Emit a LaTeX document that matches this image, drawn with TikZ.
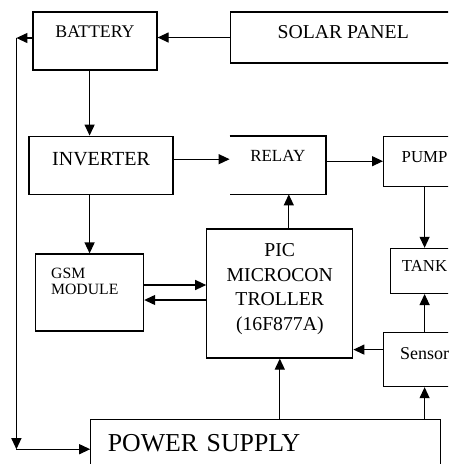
\documentclass[tikz,border=0pt]{standalone}
\usepackage{fontspec}
\setmainfont{Liberation Serif}
\usetikzlibrary{
  arrows.meta,
  positioning,
  calc
}
\tikzset{
  block/.style={
    draw,
    line width=1.2pt,
    inner sep=0pt,
    align=center
  },
  openblock/.style={
    inner sep=0pt,
    align=center
  },
  flow/.style={
    -{Triangle[length=11pt,width=10pt]},
    line width=1.2pt
  }
}

\begin{document}
\begin{tikzpicture}[
  x=1pt,
  y=1pt
]

  \useasboundingbox (0,0) rectangle (448,-464);
  \clip (0,0) rectangle (448,-464);

  \node[
    block,
    minimum width=124pt,
    minimum height=58pt,
    text depth=18pt,
    font=\fontsize{17.8}{20}\selectfont
  ] (battery) at (95,-41) {BATTERY};

  \node[
    block,
    right=72pt of battery,
    yshift=3.5pt,
    minimum width=226pt,
    minimum height=51pt,
    text depth=12pt,
    font=\fontsize{19.7}{22}\selectfont
  ] (solar) {SOLAR PANEL};

  \node[
    block,
    below=65pt of battery,
    xshift=6pt,
    minimum width=144pt,
    minimum height=58pt,
    text depth=13pt,
    font=\fontsize{20}{22}\selectfont
  ] (inverter) {INVERTER};

  \node[
    openblock,
    right=56pt of inverter,
    minimum width=96pt,
    minimum height=58pt,
    text depth=19pt,
    font=\fontsize{17}{19}\selectfont
  ] (relay) {RELAY};

  \node[
    block,
    right=57pt of relay,
    yshift=4pt,
    minimum width=82pt,
    minimum height=50pt,
    text depth=8pt,
    font=\fontsize{16.8}{19}\selectfont
  ] (pump) {PUMP};

  \node[
    block,
    below=61pt of pump,
    minimum width=68pt,
    minimum height=45pt,
    text depth=10pt,
    font=\fontsize{16.8}{19}\selectfont
  ] (tank) {TANK};

  \node[
    block,
    below=38pt of tank,
    minimum width=82pt,
    minimum height=54pt,
    text depth=12pt,
    font=\fontsize{18}{20}\selectfont
  ] (sensor) {Sensor};

  \node[
    block,
    below=34pt of relay,
    xshift=2pt,
    minimum width=146pt,
    minimum height=129pt,
    label={
      [anchor=north, yshift=-15pt, inner sep=0pt, align=center,
       font=\fontsize{19.7}{24.5}\selectfont]north:PIC\\MICROCON\\TROLLER\\(16F877A)
    }
  ] (pic) {};

  \node[
    block,
    left=62pt of pic,
    yshift=1pt,
    minimum width=108pt,
    minimum height=77pt,
    label={
      [anchor=north west, xshift=16pt, yshift=-14pt, inner sep=0pt, align=left,
       font=\fontsize{15.7}{17}\selectfont]north west:GSM\\MODULE
    }
  ] (gsm) {};

  \node[
    block,
    below=60pt of pic,
    xshift=-14pt,
    minimum width=350pt,
    minimum height=60pt,
    text width=316pt,
    inner xsep=17pt,
    align=left,
    text depth=13pt,
    font=\fontsize{25.8}{28}\selectfont
  ] (power) {POWER SUPPLY};

  % relay box is open on its left side
  \draw[line width=1.2pt]
  (relay.north west) -- (relay.north east) --
  (relay.south east) -- (relay.south west);

  \draw[flow] (solar.west) -- (solar.west -| battery.east);
  \draw[flow] (battery.south -| gsm.north) -- (inverter.north -| gsm.north);
  \draw[flow] (inverter.south -| gsm.north) -- (gsm.north);
  \draw[flow] ([yshift=6pt]inverter.east) -- ([yshift=6pt]inverter.east -| relay.west);
  \draw[flow] (relay.east |- pump.west) -- (pump.west);
  \draw[flow] (pump.south) -- (tank.north);
  \draw[flow] (sensor.north) -- (tank.south);
  \draw[flow] ([xshift=9pt]pic.north) -- ([xshift=9pt]pic.north |- relay.south);
  \draw[flow] ([yshift=7.5pt]gsm.east) -- ([yshift=7.5pt]gsm.east -| pic.west);
  \draw[flow] ([yshift=-7.5pt]gsm.east -| pic.west) -- ([yshift=-7.5pt]gsm.east);
  \draw[flow] ([yshift=10pt]sensor.west) -- ([yshift=10pt]sensor.west -| pic.east);
  \draw[flow] (power.north -| pic.south) -- (pic.south);
  \draw[flow] (power.north -| sensor.south) -- (sensor.south);

  % supply bus on the left
  \coordinate[left=16pt of battery.west, yshift=3pt] (busTop);
  \coordinate (busBottom) at (busTop |- power.west);
  \draw[flow] ([yshift=3pt]battery.west) -- (busTop);
  \draw[flow] (busTop) -- (busBottom);
  \draw[flow] (busBottom) -- (power.west);

\end{tikzpicture}
\end{document}
